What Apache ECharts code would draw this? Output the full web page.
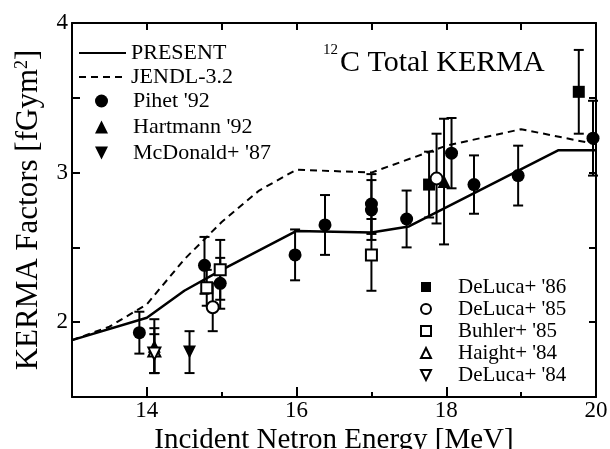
<!DOCTYPE html>
<html>
<head>
<meta charset="utf-8">
<script src="https://cdn.jsdelivr.net/npm/echarts@6/dist/echarts.min.js"></script>
<style>
    html, body { margin: 0; padding: 0; background: #fff; }
    #chart { width: 610px; height: 449px; }
</style>
</head>
<body>
<div id="chart"></div>
<script>
// evaluated curves
const presentE = [13, 14, 14.5, 15, 16, 17, 17.5, 19.5, 20]
const presentK = [1.88, 2.03, 2.21, 2.35, 2.61, 2.60, 2.64, 3.15, 3.15]
const jendlE = [13, 13.5, 14, 14.5, 15, 15.5, 16, 17, 18, 19, 20]
const jendlK = [1.88, 1.97, 2.12, 2.42, 2.67, 2.88, 3.02, 3.00, 3.18, 3.29, 3.19]

// measurements: energy, kerma, error
const pihetE = [13.9, 14.77, 14.98, 15.98, 16.38, 17.0, 17.0, 17.47, 18.07, 18.37, 18.96, 19.96]
const pihetK = [1.93, 2.38, 2.26, 2.45, 2.65, 2.79, 2.75, 2.69, 3.13, 2.92, 2.98, 3.23]
const pihetErr = [0.14, 0.19, 0.17, 0.17, 0.2, 0.2, 0.2, 0.19, 0.235, 0.195, 0.2, 0.25]

const hartmannE = [14.1, 17.97]
const hartmannK = [1.84, 2.94]
const hartmannErr = [0.18, 0.42]

const mcdonaldE = [14.57]
const mcdonaldK = [1.80]
const mcdonaldErr = [0.14]

const deluca86E = [17.77, 19.77]
const deluca86K = [2.92, 3.54]
const deluca86Err = [0.22, 0.28]

const deluca85E = [14.88, 17.87]
const deluca85K = [2.10, 2.96]
const deluca85Err = [0.16, 0.3]

const buhlerE = [14.8, 14.98, 17.0]
const buhlerK = [2.23, 2.35, 2.45]
const buhlerErr = [0.12, 0.2, 0.24]

const haightE = [14.1]
const haightK = [1.81]
const haightErr = [0.15]

const deluca84E = [14.1]
const deluca84K = [1.79]
const deluca84Err = [0.13]

const FONT = 'Liberation Serif'
const DOWN_TRIANGLE = 'path://M0,0L10,0L5,10Z'

const zip = (xs, ys) => xs.map((x, i) => [x, ys[i]])

const errSets = [
    [pihetE, pihetK, pihetErr], [hartmannE, hartmannK, hartmannErr], [mcdonaldE, mcdonaldK, mcdonaldErr],
    [deluca86E, deluca86K, deluca86Err], [deluca85E, deluca85K, deluca85Err], [buhlerE, buhlerK, buhlerErr],
    [haightE, haightK, haightErr], [deluca84E, deluca84K, deluca84Err]
]
const errData = []
errSets.forEach(([xs, ys, es]) => {
    xs.forEach((x, i) => errData.push([x, ys[i] - es[i], ys[i] + es[i]]))
})

const filled = { color: '#000', opacity: 1 }
const open = { color: '#fff', borderColor: '#000', borderWidth: 2, opacity: 1 }

function scatter(name, xs, ys, symbol, size, style) {
    return {
        name: name,
        type: 'scatter',
        data: zip(xs, ys),
        symbol: symbol,
        symbolSize: size,
        itemStyle: style,
        z: 4
    }
}

const chart = echarts.init(document.getElementById('chart'))

const tickStyle = { color: '#000', width: 2 }
const textBase = { fontFamily: FONT, color: '#000', fontWeight: 'normal' }

chart.setOption({
    animation: false,
    backgroundColor: '#fff',
    title: {
        text: '{sup|12}{main|C Total KERMA}',
        left: 323,
        top: 43,
        padding: 0,
        textStyle: {
            fontWeight: 'normal',
            rich: {
                sup: { ...textBase, fontSize: 15, verticalAlign: 'top', padding: [0, 2, 0, 0] },
                main: { ...textBase, fontSize: 30, padding: [5, 0, 0, 0] }
            }
        }
    },
    grid: { left: 72, right: 14, top: 23, bottom: 52, outerBoundsMode: 'none' },
    legend: [
        {
            data: [
                { name: 'PRESENT', itemStyle: { opacity: 0 } },
                { name: 'JENDL-3.2', itemStyle: { opacity: 0 } }
            ],
            orient: 'vertical',
            left: 78,
            top: 41,
            padding: 0,
            itemGap: 0,
            itemWidth: 47,
            itemHeight: 14,
            textStyle: { ...textBase, fontSize: 22, lineHeight: 24 }
        },
        {
            data: ["Pihet '92", "Hartmann '92", { name: "McDonald+ '87", icon: DOWN_TRIANGLE }],
            orient: 'vertical',
            left: 95,
            top: 88,
            padding: 0,
            itemGap: 0,
            itemWidth: 13,
            itemHeight: 13,
            textStyle: { ...textBase, fontSize: 22, lineHeight: 26, padding: [0, 0, 0, 20] }
        },
        {
            data: ["DeLuca+ '86", "DeLuca+ '85", "Buhler+ '85", "Haight+ '84", { name: "DeLuca+ '84", icon: DOWN_TRIANGLE }],
            orient: 'vertical',
            left: 420,
            top: 276,
            padding: 0,
            itemGap: 0,
            itemWidth: 10,
            itemHeight: 10,
            textStyle: { ...textBase, fontSize: 21, lineHeight: 22, padding: [0, 0, 0, 22] }
        }
    ],
    xAxis: [
        {
            type: 'value',
            position: 'bottom',
            min: 13,
            max: 20,
            name: 'Incident Netron Energy [MeV]',
            nameLocation: 'middle',
            nameGap: 29,
            nameMoveOverlap: false,
            nameTextStyle: { ...textBase, fontSize: 29 },
            axisLine: { lineStyle: tickStyle },
            axisTick: { inside: true, length: 10, lineStyle: tickStyle, customValues: [14, 16, 18] },
            axisLabel: { ...textBase, fontSize: 23, margin: 2, customValues: [14, 16, 18, 20] },
            splitLine: { show: false }
        },
        {
            type: 'value',
            position: 'bottom',
            min: 13,
            max: 20,
            axisLine: { show: false },
            axisTick: { inside: true, length: 5, lineStyle: tickStyle, customValues: [15, 17, 19] },
            axisLabel: { show: false },
            splitLine: { show: false }
        },
        {
            type: 'value',
            position: 'top',
            min: 13,
            max: 20,
            axisLine: { lineStyle: tickStyle },
            axisTick: { inside: true, length: 7, lineStyle: tickStyle, customValues: [14, 15, 16, 17, 18, 19] },
            axisLabel: { show: false },
            splitLine: { show: false }
        }
    ],
    yAxis: [
        {
            type: 'value',
            position: 'left',
            min: 1.5,
            max: 4,
            interval: 0.5,
            name: 'KERMA Factors [fGym{sup|2}]',
            nameLocation: 'middle',
            nameGap: 28,
            nameTextStyle: {
                ...textBase,
                fontSize: 31,
                rich: { sup: { ...textBase, fontSize: 18, verticalAlign: 'top' } }
            },
            axisLine: { lineStyle: tickStyle },
            axisTick: { inside: true, length: 8, lineStyle: tickStyle, customValues: [2, 2.5, 3, 3.5] },
            axisLabel: { ...textBase, fontSize: 23, margin: 4, customValues: [2, 3, 4] },
            splitLine: { show: false }
        },
        {
            type: 'value',
            position: 'right',
            min: 1.5,
            max: 4,
            interval: 0.5,
            axisLine: { lineStyle: tickStyle },
            axisTick: { inside: true, length: 7, lineStyle: tickStyle, customValues: [2, 2.5, 3, 3.5] },
            axisLabel: { show: false },
            splitLine: { show: false }
        }
    ],
    series: [
        {
            name: 'PRESENT',
            type: 'line',
            data: zip(presentE, presentK),
            symbol: 'none',
            itemStyle: { color: '#000' },
            lineStyle: { color: '#000', width: 2.5 },
            z: 2
        },
        {
            name: 'JENDL-3.2',
            type: 'line',
            data: zip(jendlE, jendlK),
            symbol: 'none',
            itemStyle: { color: '#000' },
            lineStyle: { color: '#000', width: 2, type: [7, 5] },
            z: 2
        },
        {
            name: 'errors',
            type: 'custom',
            data: errData,
            encode: { x: 0, y: [1, 2] },
            z: 3,
            renderItem: (params, api) => {
                const x = api.value(0)
                const top = api.coord([x, api.value(2)])
                const bot = api.coord([x, api.value(1)])
                const w = 5
                const style = { stroke: '#000', lineWidth: 2 }
                return {
                    type: 'group',
                    children: [
                        { type: 'line', shape: { x1: top[0], y1: top[1], x2: bot[0], y2: bot[1] }, style },
                        { type: 'line', shape: { x1: top[0] - w, y1: top[1], x2: top[0] + w, y2: top[1] }, style },
                        { type: 'line', shape: { x1: bot[0] - w, y1: bot[1], x2: bot[0] + w, y2: bot[1] }, style }
                    ]
                }
            }
        },
        scatter("Pihet '92", pihetE, pihetK, 'circle', 13, filled),
        scatter("Hartmann '92", hartmannE, hartmannK, 'triangle', 13, filled),
        scatter("McDonald+ '87", mcdonaldE, mcdonaldK, DOWN_TRIANGLE, 13, filled),
        scatter("DeLuca+ '86", deluca86E, deluca86K, 'rect', 12, filled),
        scatter("Buhler+ '85", buhlerE, buhlerK, 'rect', 11, open),
        scatter("DeLuca+ '85", deluca85E, deluca85K, 'circle', 12, open),
        scatter("Haight+ '84", haightE, haightK, 'triangle', 12, open),
        scatter("DeLuca+ '84", deluca84E, deluca84K, DOWN_TRIANGLE, 12, open)
    ]
})
</script>
</body>
</html>
